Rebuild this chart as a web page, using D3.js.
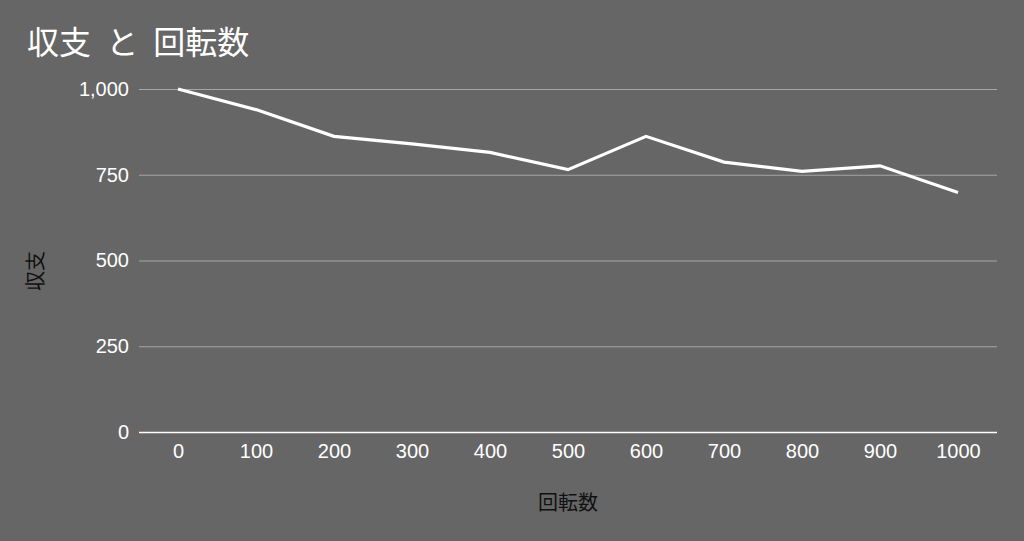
<!DOCTYPE html>
<html><head><meta charset="utf-8">
<script src="https://cdn.jsdelivr.net/npm/d3@7"></script>
<style>html,body{margin:0;padding:0;background:#666666;}svg{display:block;}</style>
</head><body>
<svg id="chart" width="1024" height="541"></svg>
<script>
const categories = [0,100,200,300,400,500,600,700,800,900,1000];
const balance = [1000,940,862,840,815,765,862,787,760,776,698];
const yTicks = [0,250,500,750,1000];
const title = "収支 と 回転数";
const xTitle = "回転数";
const yTitle = "収支";

const W = 1024, H = 541;
const m = {left:139, right:27, top:89, bottom:109};
const svg = d3.select("#chart");
svg.append("rect").attr("width",W).attr("height",H).attr("fill","#666666");

const x = d3.scalePoint().domain(categories).range([m.left, W-m.right]).padding(0.5);
const y = d3.scaleLinear().domain([0,1000]).range([H-m.bottom, m.top]);
const font = "'Liberation Sans', Arial, 'Noto Sans CJK JP', sans-serif";

// gridlines
const yAxis = d3.axisLeft(y).tickValues(yTicks).tickSize(-(W-m.right-m.left)).tickPadding(10)
  .tickFormat(d3.format(","));
const gy = svg.append("g").attr("transform",`translate(${m.left},0)`).call(yAxis);
gy.select(".domain").remove();
gy.selectAll(".tick line").attr("stroke", d => d===0 ? "#ffffff" : "#a6a6a6").attr("stroke-width", d=> d===0?1.5:1.2);
gy.selectAll(".tick text").attr("fill","#ffffff").style("font-family",font).style("font-size","20px");

const xAxis = d3.axisBottom(x).tickSize(0).tickPadding(12);
const gx = svg.append("g").attr("transform",`translate(0,${H-m.bottom})`).call(xAxis);
gx.select(".domain").remove();
gx.selectAll(".tick text").attr("fill","#ffffff").style("font-family",font).style("font-size","20px");

const line = d3.line().x((d,i)=>x(categories[i])).y(d=>y(d));
svg.append("path").datum(balance).attr("d",line).attr("fill","none")
  .attr("stroke","#ffffff").attr("stroke-width",3.2).attr("stroke-linejoin","miter");

svg.append("text").attr("x",27).attr("y",54).text(title)
  .attr("fill","#ffffff").style("font-family","'Noto Sans CJK JP', sans-serif").style("font-size","32px")
  .style("word-spacing","8px");

svg.append("text").attr("x",(m.left+W-m.right)/2).attr("y",510).attr("text-anchor","middle").text(xTitle)
  .attr("fill","#111111").style("font-family","'Noto Sans CJK JP', sans-serif").style("font-size","20px");

svg.append("text").attr("transform","translate(43,271) rotate(-90)").attr("text-anchor","middle").text(yTitle)
  .attr("fill","#111111").style("font-family","'Noto Sans CJK JP', sans-serif").style("font-size","20px");
</script>
</body></html>
